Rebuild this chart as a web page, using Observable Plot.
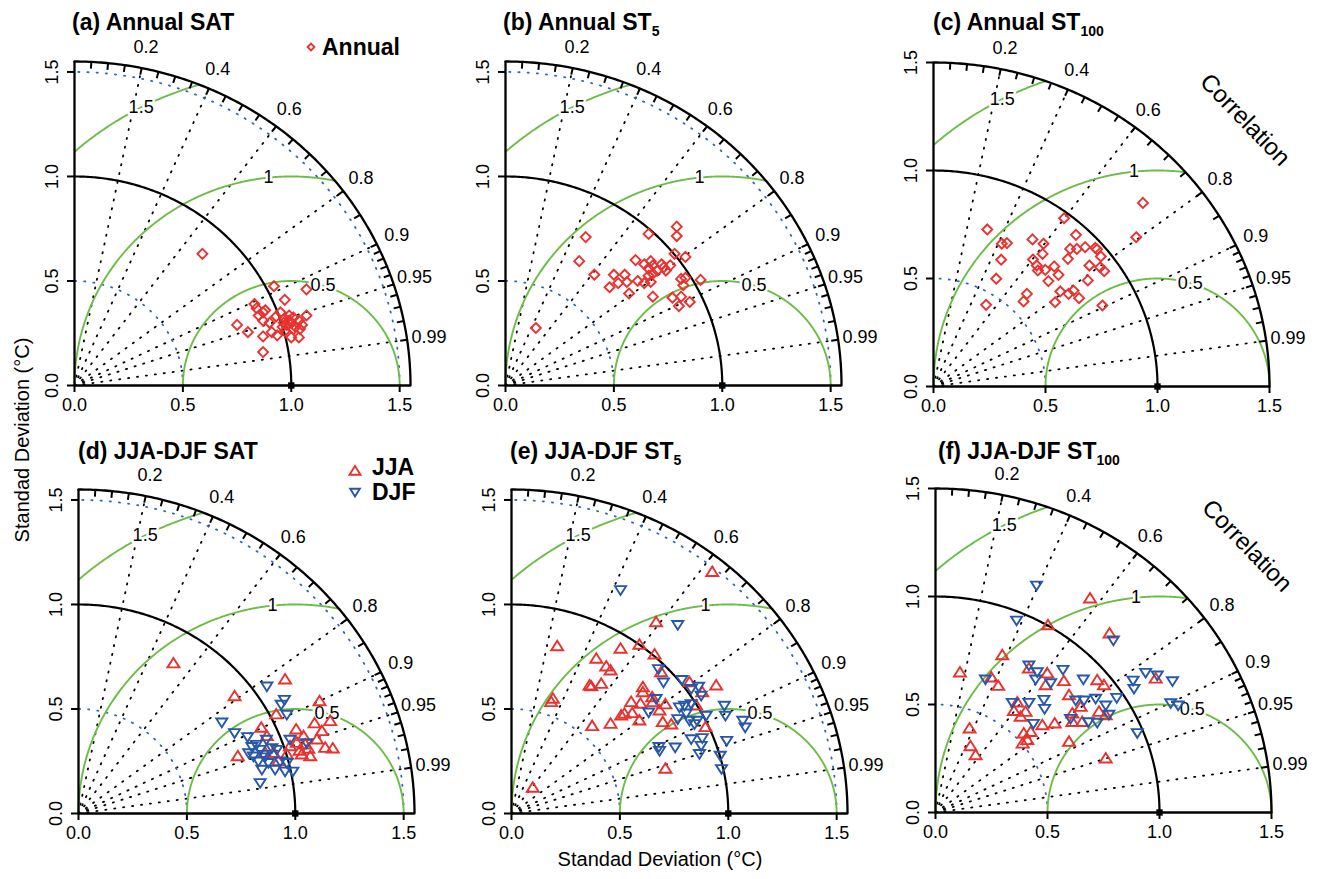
<!DOCTYPE html>
<html><head><meta charset="utf-8">
<script src="https://cdn.jsdelivr.net/npm/d3@7"></script>
<script src="https://cdn.jsdelivr.net/npm/@observablehq/plot@0.6"></script>
<style>
body{margin:0;background:#fff;font-family:"Liberation Sans",Arial,Helvetica,sans-serif;}
#root{position:relative;width:1321px;height:879px;overflow:hidden;background:#fff;}
.panel{position:absolute;}
.title{position:absolute;font-weight:bold;font-size:23px;line-height:23px;white-space:nowrap;color:#000;}
.title sub{font-size:14px;vertical-align:-6px;line-height:0;}
.leg{position:absolute;font-weight:bold;font-size:23px;line-height:23px;white-space:nowrap;}
.legsym{position:absolute;}
.axtitle{position:absolute;font-size:20px;line-height:22px;white-space:nowrap;}
</style></head>
<body><div id="root"></div>
<script>
// ---------- data (x = SD*cor, y = SD*sqrt(1-cor^2)) ----------
const annualSAT = [[0.59,0.63],[0.92,0.475],[1.07,0.46],[0.97,0.41],[0.83,0.39],[0.84,0.37],[0.87,0.35],[0.88,0.36],[0.85,0.335],[0.87,0.31],[0.90,0.30],[0.95,0.35],[0.97,0.32],[0.99,0.335],[1.01,0.325],[1.035,0.31],[1.07,0.335],[0.965,0.30],[0.98,0.29],[1.0,0.30],[0.96,0.28],[1.02,0.28],[1.05,0.29],[1.04,0.27],[0.75,0.29],[0.80,0.255],[0.87,0.235],[0.91,0.255],[0.935,0.24],[0.97,0.26],[1.0,0.23],[1.035,0.23],[0.87,0.16],[0.99,0.31],[0.93,0.33],[1.01,0.27]];
const annualST5 = [[0.37,0.71],[0.34,0.595],[0.41,0.53],[0.79,0.76],[0.79,0.715],[0.66,0.725],[0.78,0.63],[0.83,0.615],[0.60,0.60],[0.64,0.58],[0.67,0.595],[0.68,0.575],[0.72,0.58],[0.73,0.565],[0.76,0.575],[0.74,0.55],[0.70,0.55],[0.66,0.56],[0.50,0.53],[0.55,0.53],[0.52,0.49],[0.48,0.47],[0.56,0.495],[0.61,0.50],[0.64,0.49],[0.67,0.495],[0.66,0.525],[0.68,0.535],[0.57,0.44],[0.68,0.425],[0.81,0.51],[0.83,0.515],[0.82,0.48],[0.90,0.505],[0.77,0.42],[0.81,0.425],[0.85,0.40],[0.80,0.38],[0.14,0.275]];
const annualST100 = [[0.24,0.727],[0.305,0.661],[0.328,0.664],[0.302,0.587],[0.28,0.499],[0.235,0.378],[0.402,0.394],[0.417,0.429],[0.442,0.681],[0.491,0.661],[0.487,0.614],[0.444,0.588],[0.461,0.56],[0.466,0.537],[0.499,0.54],[0.539,0.556],[0.558,0.517],[0.513,0.488],[0.566,0.44],[0.543,0.39],[0.603,0.429],[0.625,0.444],[0.65,0.409],[0.583,0.779],[0.636,0.702],[0.61,0.637],[0.64,0.637],[0.60,0.591],[0.677,0.645],[0.722,0.642],[0.73,0.635],[0.747,0.602],[0.696,0.56],[0.744,0.552],[0.762,0.534],[0.689,0.491],[0.754,0.375],[0.905,0.691],[0.935,0.85]];
const jjaSAT = [[0.438,0.718],[0.953,0.641],[0.72,0.561],[0.912,0.474],[1.112,0.537],[1.161,0.442],[1.089,0.431],[1.123,0.394],[1.004,0.402],[0.843,0.41],[0.869,0.37],[1.038,0.37],[1.10,0.354],[1.046,0.33],[1.007,0.338],[0.976,0.322],[1.138,0.314],[1.173,0.311],[1.069,0.274],[1.03,0.282],[0.961,0.282],[0.922,0.25],[0.735,0.274],[0.861,0.29],[0.899,0.29],[1.02,0.30],[1.06,0.31]];
const djfSAT = [[0.869,0.609],[0.95,0.545],[0.935,0.522],[0.961,0.474],[0.661,0.437],[0.72,0.386],[0.78,0.367],[0.867,0.354],[0.82,0.33],[0.785,0.29],[0.838,0.306],[0.807,0.274],[0.853,0.282],[0.892,0.314],[0.915,0.306],[0.83,0.25],[0.876,0.243],[0.846,0.211],[0.907,0.211],[0.953,0.202],[0.989,0.202],[0.976,0.354],[1.053,0.338],[0.961,0.243],[0.838,0.147],[0.93,0.25],[0.80,0.32],[0.86,0.27]];
const jjaST5 = [[0.926,1.155],[0.667,0.915],[0.211,0.80],[0.503,0.788],[0.59,0.807],[0.391,0.74],[0.437,0.703],[0.457,0.684],[0.66,0.761],[0.69,0.676],[0.36,0.612],[0.414,0.62],[0.368,0.608],[0.191,0.549],[0.183,0.533],[0.606,0.604],[0.606,0.58],[0.649,0.556],[0.552,0.533],[0.595,0.525],[0.652,0.533],[0.71,0.522],[0.683,0.493],[0.521,0.477],[0.506,0.469],[0.557,0.48],[0.59,0.445],[0.698,0.437],[0.737,0.426],[0.457,0.429],[0.372,0.418],[0.821,0.628],[0.88,0.58],[0.944,0.612],[0.852,0.517],[0.895,0.413],[0.71,0.214],[0.098,0.123]];
const djfST5 = [[0.503,1.07],[0.767,0.903],[0.678,0.692],[0.701,0.628],[0.786,0.64],[0.829,0.597],[0.863,0.608],[0.875,0.565],[0.667,0.549],[0.633,0.485],[0.775,0.509],[0.798,0.517],[0.829,0.525],[0.806,0.48],[0.767,0.453],[0.821,0.445],[0.844,0.429],[0.856,0.445],[0.898,0.469],[0.982,0.517],[0.987,0.469],[1.067,0.445],[1.078,0.413],[0.829,0.357],[0.88,0.362],[0.875,0.325],[0.867,0.286],[0.755,0.317],[0.683,0.301],[0.68,0.32],[0.993,0.349],[0.963,0.278],[0.969,0.214]];
const jjaST100 = [[0.109,0.648],[0.152,0.389],[0.156,0.307],[0.179,0.265],[0.298,0.728],[0.249,0.625],[0.28,0.586],[0.502,0.867],[0.69,0.991],[0.777,0.829],[0.35,0.47],[0.365,0.509],[0.402,0.466],[0.38,0.443],[0.394,0.366],[0.389,0.319],[0.425,0.373],[0.41,0.335],[0.417,0.667],[0.499,0.644],[0.492,0.589],[0.573,0.608],[0.596,0.543],[0.477,0.404],[0.532,0.412],[0.611,0.458],[0.648,0.489],[0.611,0.419],[0.655,0.419],[0.596,0.327],[0.722,0.612],[0.752,0.589],[0.73,0.466],[0.76,0.45],[0.76,0.25],[0.983,0.62]];
const djfST100 = [[0.451,1.052],[0.362,0.89],[0.794,0.798],[0.223,0.617],[0.417,0.682],[0.454,0.651],[0.447,0.617],[0.514,0.60],[0.569,0.662],[0.343,0.509],[0.417,0.509],[0.484,0.523],[0.487,0.481],[0.437,0.412],[0.626,0.52],[0.663,0.52],[0.66,0.617],[0.715,0.528],[0.76,0.497],[0.809,0.532],[0.774,0.454],[0.603,0.435],[0.682,0.419],[0.722,0.417],[0.882,0.612],[0.886,0.574],[0.938,0.648],[0.99,0.636],[1.058,0.609],[1.05,0.507],[1.083,0.497],[0.901,0.369]];

// ---------- diagram constants ----------
const corrLines = [0.2,0.4,0.6,0.8,0.9,0.95,0.99];
const corrTicks = [0.05,0.1,0.15,0.2,0.25,0.3,0.35,0.4,0.45,0.5,0.55,0.6,0.65,0.7,0.75,0.8,0.85,0.9,0.91,0.92,0.93,0.94,0.95,0.96,0.97,0.98,0.99];
const sdTicks = [0,0.5,1,1.5];
const sdGrid = [0.5,1.5];
const rmsLevels = [0.5,1,1.5];
const rmsLabels = ["0.5","1","1.5"];
const rmsLabelAngles = [73,96,117.5];
const refSD = [1];

const RED = "#e8322f", BLUE = "#2757a8", GREEN = "#6cbd48", BLUEDOT = "#3163c2";
const ML = 50, MR = 70, MT = 45, MB = 40, IW = 336, IH = 324;
const FONT = '"Liberation Sans", Arial, Helvetica, sans-serif';

const symDiamond = {draw(ctx, size){const r=Math.sqrt(size/Math.PI);ctx.moveTo(0,-r);ctx.lineTo(r,0);ctx.lineTo(0,r);ctx.lineTo(-r,0);ctx.closePath();}};
const symUp = {draw(ctx, size){const r=Math.sqrt(size/Math.PI);ctx.moveTo(0,-1.1*r);ctx.lineTo(1.2*r,0.8*r);ctx.lineTo(-1.2*r,0.8*r);ctx.closePath();}};
const symDown = {draw(ctx, size){const r=Math.sqrt(size/Math.PI);ctx.moveTo(0,1.1*r);ctx.lineTo(1.2*r,-0.8*r);ctx.lineTo(-1.2*r,-0.8*r);ctx.closePath();}};

const panels = [
  {title:"(a) Annual SAT", sub:"", tx:72, ty:11, R:1.55, x0:74, y0:385, series:[{data:annualSAT, sym:symDiamond, color:RED, r:5}], corrLabel:false},
  {title:"(b) Annual ST", sub:"5", tx:503, ty:11, R:1.55, x0:505, y0:385, series:[{data:annualST5, sym:symDiamond, color:RED, r:5}], corrLabel:false},
  {title:"(c) Annual ST", sub:"100", tx:933, ty:11, R:1.5, x0:933, y0:386, series:[{data:annualST100, sym:symDiamond, color:RED, r:5}], corrLabel:true},
  {title:"(d) JJA-DJF SAT", sub:"", tx:78, ty:440, R:1.55, x0:78, y0:813, series:[{data:jjaSAT, sym:symUp, color:RED, r:5},{data:djfSAT, sym:symDown, color:BLUE, r:4.6}], corrLabel:false},
  {title:"(e) JJA-DJF ST", sub:"5", tx:510, ty:440, R:1.55, x0:511, y0:813, series:[{data:jjaST5, sym:symUp, color:RED, r:5},{data:djfST5, sym:symDown, color:BLUE, r:4.6}], corrLabel:false},
  {title:"(f) JJA-DJF ST", sub:"100", tx:938, ty:440, R:1.5, x0:935, y0:812, series:[{data:jjaST100, sym:symUp, color:RED, r:5},{data:djfST100, sym:symDown, color:BLUE, r:4.6}], corrLabel:true}
];

const root = document.getElementById("root");
const deg = Math.PI/180;
const arcPts = (r) => d3.range(0, 90.001, 0.5).map(a => ({x: r*Math.cos(a*deg), y: r*Math.sin(a*deg)}));

function makePanel(cfg){
  const R = cfg.R;
  const ppu = IW / R;
  const tl = 7 / ppu;
  const lr = R + 22 / ppu;
  const rmsArc = rho => d3.range(0, 180.001, 0.25)
      .map(a => ({x: 1 + rho*Math.cos(a*deg), y: rho*Math.sin(a*deg)}))
      .filter(p => p.x >= -1e-9 && p.x*p.x + p.y*p.y <= R*R + 1e-6);
  const sinOf = c => Math.sqrt(1 - c*c);
  const marks = [
    Plot.link(corrLines, {x1:0, y1:0, x2:c=>R*c, y2:c=>R*sinOf(c), stroke:"black", strokeWidth:1.8, strokeDasharray:"1.2 7.8", strokeLinecap:"round"}),
    ...sdGrid.filter(s => s < R - 0.01).map(s => Plot.line(arcPts(s), {x:"x", y:"y", stroke:BLUEDOT, strokeWidth:1.8, strokeDasharray:"1.2 8", strokeLinecap:"round"})),
    ...rmsLevels.map(rho => Plot.line(rmsArc(rho), {x:"x", y:"y", stroke:GREEN, strokeWidth:1.9})),
    Plot.line(arcPts(refSD[0]), {x:"x", y:"y", stroke:"black", strokeWidth:2.2}),
    Plot.line(arcPts(R), {x:"x", y:"y", stroke:"black", strokeWidth:2.3}),
    Plot.link(corrTicks, {x1:c=>R*c, y1:c=>R*sinOf(c), x2:c=>(R-tl)*c, y2:c=>(R-tl)*sinOf(c), stroke:"black", strokeWidth:2}),
    Plot.ruleY([0], {x1:0, x2:R, stroke:"black", strokeWidth:2.3}),
    Plot.ruleX([0], {y1:0, y2:R, stroke:"black", strokeWidth:2.3}),
    Plot.axisX(sdTicks, {tickSize:7, tickFormat:()=>"", strokeWidth:2, label:null}),
    Plot.axisY(sdTicks, {tickSize:7, tickFormat:()=>"", strokeWidth:2, label:null}),
    Plot.text(sdTicks, {x:d=>d, y:0, dy:20, text:d=>d.toFixed(1), fontSize:18}),
    Plot.text(sdTicks, {x:0, y:d=>d, dx:-22, rotate:-90, text:d=>d.toFixed(1), fontSize:18}),
    Plot.text(corrLines, {x:c=>lr*c, y:c=>lr*sinOf(c), text:c=>String(c), fontSize:18}),
    Plot.text(rmsLevels, {x:(rho,i)=>1+rho*Math.cos(rmsLabelAngles[i]*deg), y:(rho,i)=>rho*Math.sin(rmsLabelAngles[i]*deg), text:(rho,i)=>rmsLabels[i], fontSize:18, stroke:"white", strokeWidth:5, fill:"black"}),
    Plot.dot(refSD, {x:d=>d, y:0, symbol:"square", r:3.6, fill:"black"}),
    ...cfg.series.map(s => Plot.dot(s.data, {x:d=>d[0], y:d=>d[1], symbol:s.sym, r:s.r, stroke:s.color, strokeWidth:1.9, fill:"none"}))
  ];
  if (cfg.corrLabel) {
    const cr = 1.86, ca = 41.6;
    marks.push(Plot.text(["Correlation"], {x:cr*Math.cos(ca*deg), y:cr*Math.sin(ca*deg), text:d=>d, rotate:46, fontSize:24}));
  }
  const svg = Plot.plot({
    width: ML + IW + MR, height: MT + IH + MB,
    marginLeft: ML, marginRight: MR, marginTop: MT, marginBottom: MB,
    x: {domain:[0, R], label:null}, y: {domain:[0, R], label:null},
    style: {background:"transparent", overflow:"visible", fontFamily:FONT, fontSize:"18px", color:"black"},
    marks
  });
  const div = document.createElement("div");
  div.className = "panel";
  div.style.left = (cfg.x0 - ML) + "px";
  div.style.top = (cfg.y0 - MT - IH) + "px";
  div.style.width = (ML + IW + MR) + "px";
  div.appendChild(svg);
  root.appendChild(div);

  const t = document.createElement("div");
  t.className = "title";
  t.style.left = cfg.tx + "px";
  t.style.top = cfg.ty + "px";
  t.innerHTML = cfg.title + (cfg.sub ? "<sub>" + cfg.sub + "</sub>" : "");
  root.appendChild(t);
}
panels.forEach(makePanel);

// ---------- legends ----------
function legendSymbol(x, y, sym, color, r){
  const s = 20;
  const d = d3.symbol(sym, r*r*Math.PI)();
  const el = document.createElement("div");
  el.className = "legsym";
  el.style.left = (x - s/2) + "px"; el.style.top = (y - s/2) + "px";
  el.innerHTML = `<svg width="${s}" height="${s}"><path d="${d}" transform="translate(${s/2},${s/2})" fill="none" stroke="${color}" stroke-width="1.9"/></svg>`;
  root.appendChild(el);
}
function legendText(x, top, txt){
  const el = document.createElement("div");
  el.className = "leg"; el.style.left = x + "px"; el.style.top = top + "px"; el.textContent = txt;
  root.appendChild(el);
}
const legendA = [{label:"Annual", sym:symDiamond, color:RED, r:3.4}];
const legendD = [{label:"JJA", sym:symUp, color:RED, r:4.6},{label:"DJF", sym:symDown, color:BLUE, r:4.0}];
legendA.forEach((l,i) => { legendSymbol(311, 47, l.sym, l.color, l.r); legendText(322, 35.5, l.label); });
legendD.forEach((l,i) => { legendSymbol(355, 471 + i*21, l.sym, l.color, l.r); legendText(372, 455.5 + i*25, l.label); });

// ---------- axis titles ----------
const xt = document.createElement("div");
xt.className = "axtitle"; xt.textContent = "Standad Deviation (°C)";
xt.style.left = "660px"; xt.style.top = "848px"; xt.style.transform = "translateX(-50%)";
root.appendChild(xt);
const yt = document.createElement("div");
yt.className = "axtitle"; yt.textContent = "Standad Deviation (°C)";
yt.style.left = "22px"; yt.style.top = "440px"; yt.style.transform = "translate(-50%,-50%) rotate(-90deg)";
root.appendChild(yt);
</script>
</body></html>
